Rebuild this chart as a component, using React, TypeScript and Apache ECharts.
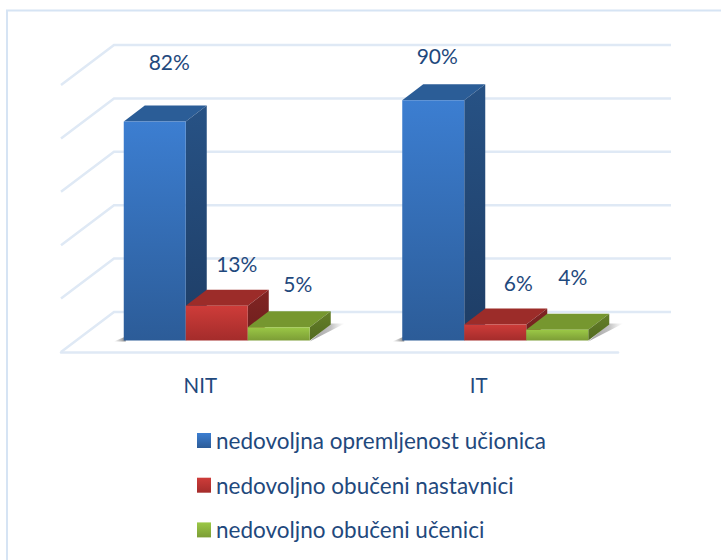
import React, { useEffect, useRef } from "react";
import * as echarts from "echarts";

const categories = ["NIT", "IT"];
const seriesNames = [
  "nedovoljna opremljenost učionica",
  "nedovoljno obučeni nastavnici",
  "nedovoljno obučeni učenici",
];
const opremljenost = [82, 90];
const nastavnici = [13, 6];
const ucenici = [5, 4];
const gridValues = [0, 20, 40, 60, 80, 100];

const INK = "#1f497d";
const FONT = "Lato";
const WALL = "#dfe9f5";
const BAR_W = 62;
const PLANE_DX = 16.5;
const PLANE_DY = -11.5;
const DEPTH_DX = 21;
const DEPTH_DY = -16;
const WALL_DX = 53;
const WALL_DY = -40;

const vGrad = (a: string, b: string) =>
  new echarts.graphic.LinearGradient(0, 0, 0, 1, [
    { offset: 0, color: a },
    { offset: 1, color: b },
  ]);

const palettes = [
  { front: ["#3c7ed1", "#2c5c98"], top: "#2b5d97", side: ["#275285", "#1e3d65"] },
  { front: ["#ce3c39", "#a42c2b"], top: "#9c2c29", side: ["#812523", "#6d1e1d"] },
  { front: ["#9bc846", "#7c9d36"], top: "#76972f", side: ["#647f28", "#526a20"] },
];

// per series, per category: label shift from the centre of the bar's top edge
const labelShift = [
  [[14.5, -60], [4, -45]],
  [[20, -42], [23, -41.5]],
  [[19, -44], [15.5, -53]],
];

const barRender = (si: number) => (params: any, api: any) => {
  const ci = api.value(0);
  const top = api.coord([ci, api.value(1)]);
  const base = api.coord([ci, 0]);
  const cx = top[0] + PLANE_DX + (si - 1) * BAR_W;
  const l = cx - BAR_W / 2;
  const r = cx + BAR_W / 2;
  const yT = top[1] + PLANE_DY;
  const yB = base[1] + PLANE_DY;
  const p = palettes[si];
  const shift = labelShift[si][ci];
  return {
    type: "group",
    children: [
      {
        type: "polygon",
        shape: { points: [[l, yT], [l + DEPTH_DX, yT + DEPTH_DY], [r + DEPTH_DX, yT + DEPTH_DY], [r, yT]] },
        style: { fill: p.top },
      },
      {
        type: "polygon",
        shape: { points: [[r, yT], [r + DEPTH_DX, yT + DEPTH_DY], [r + DEPTH_DX, yB + DEPTH_DY], [r, yB]] },
        style: { fill: vGrad(p.side[0], p.side[1]) },
      },
      {
        type: "rect",
        shape: { x: l, y: yT, width: BAR_W, height: yB - yT },
        style: { fill: vGrad(p.front[0], p.front[1]) },
      },
      {
        type: "text",
        style: {
          x: cx + shift[0],
          y: yT + shift[1],
          text: api.value(1) + "%",
          fill: INK,
          font: `21px ${FONT}`,
          align: "center",
          verticalAlign: "middle",
        },
      },
    ],
  };
};

const wallRender = (params: any, api: any) => {
  const v = api.value(0);
  const y = api.coord([0, v])[1];
  const { x, width } = params.coordSys;
  return {
    type: "polyline",
    shape: {
      points: [[x, y], [x + WALL_DX, y + WALL_DY], [x + width + WALL_DX, y + WALL_DY]],
    },
    style: { stroke: WALL, lineWidth: 2.5, fill: "none" },
  };
};

const shadowRender = (params: any, api: any) => {
  const ci = api.value(0);
  const base = api.coord([ci, 0]);
  const cx = base[0] + PLANE_DX;
  const yB = base[1] + PLANE_DY + 1;
  const l = cx - 1.5 * BAR_W;
  const r = cx + 1.5 * BAR_W;
  return {
    type: "group",
    children: [
      {
        type: "polygon",
        shape: { points: [[l - 10, yB], [l + 2, yB - 5], [l + 2, yB]] },
        style: {
          fill: new echarts.graphic.LinearGradient(0, 0, 1, 0, [
            { offset: 0, color: "rgba(120,120,120,0)" },
            { offset: 1, color: "rgba(90,90,90,0.75)" },
          ]),
        },
      },
      {
        type: "polygon",
        shape: { points: [[r, yB], [r + DEPTH_DX, yB + DEPTH_DY - 2], [r + DEPTH_DX + 14, yB + DEPTH_DY - 2]] },
        style: {
          fill: new echarts.graphic.LinearGradient(0, 0, 1, 0, [
            { offset: 0, color: "rgba(90,90,90,0.6)" },
            { offset: 0.6, color: "rgba(120,120,120,0.45)" },
            { offset: 1, color: "rgba(160,160,160,0)" },
          ]),
        },
      },
    ],
  };
};

export default function App() {
  const ref = useRef<HTMLDivElement>(null);
  useEffect(() => {
    const chart = echarts.init(ref.current!, null, { renderer: "svg" });
    const values = [opremljenost, nastavnici, ucenici];
    chart.setOption({
      animation: false,
      backgroundColor: "#ffffff",
      graphic: [
        {
          type: "polyline",
          silent: true,
          shape: { points: [[7, 560], [7, 10.5], [721, 10.5]] },
          style: { fill: "none", stroke: "#d6e4f4", lineWidth: 2 },
        },
      ],
      grid: { left: 61, top: 85, width: 557, height: 267 },
      xAxis: {
        type: "category",
        data: categories,
        axisTick: { show: false },
        axisLine: { show: true, lineStyle: { color: WALL, width: 2.5 } },
        axisLabel: { color: INK, fontFamily: FONT, fontSize: 20.5, margin: 22 },
      },
      yAxis: { type: "value", min: 0, max: 100, interval: 20, show: false },
      legend: {
        orient: "vertical",
        left: 192,
        top: 424,
        itemWidth: 14,
        itemHeight: 15,
        itemGap: 21.7,
        data: seriesNames,
        icon: "rect",
        textStyle: { color: INK, fontFamily: FONT, fontSize: 22.5 },
      },
      series: [
        {
          type: "custom",
          silent: true,
          z: 1,
          renderItem: wallRender,
          data: gridValues.map((v) => [v]),
          encode: { y: 0 },
        },
        {
          type: "custom",
          silent: true,
          z: 2,
          renderItem: shadowRender,
          data: categories.map((_, i) => [i]),
          encode: { x: 0 },
        },
        ...seriesNames.map((name, si) => ({
          type: "custom",
          name,
          z: 3 + si,
          renderItem: barRender(si),
          itemStyle: { color: vGrad(palettes[si].front[0], palettes[si].front[1]) },
          data: values[si].map((v, i) => [i, v]),
          encode: { x: 0, y: 1 },
        })),
      ],
    });
    return () => chart.dispose();
  }, []);
  return (
    <div
      ref={ref}
      style={{ position: "absolute", left: 0, top: 0, width: 721, height: 560 }}
    />
  );
}
